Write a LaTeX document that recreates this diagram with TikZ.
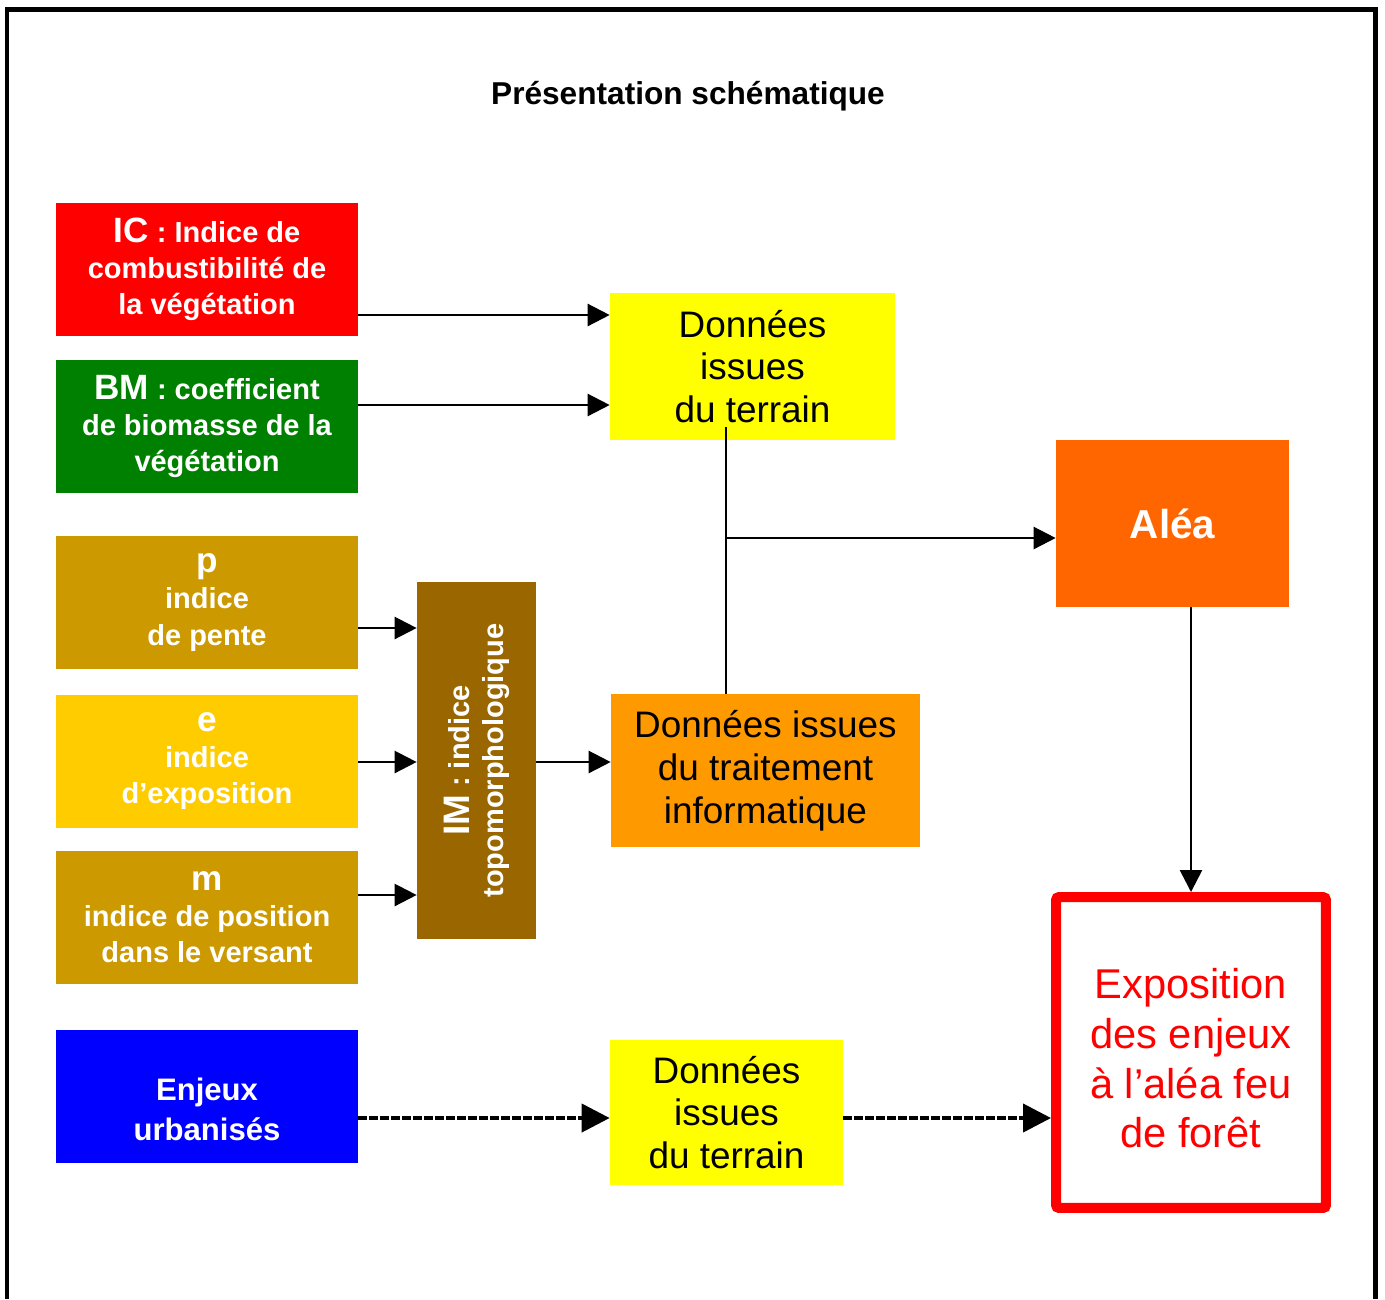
\documentclass[tikz,border=0pt]{standalone}
\usepackage{fontspec}
\setmainfont{Liberation Sans}
\usetikzlibrary{arrows.meta,calc}

\definecolor{icred}{HTML}{FF0000}
\definecolor{bmgreen}{HTML}{008000}
\definecolor{pente}{HTML}{CC9900}
\definecolor{exposit}{HTML}{FFCC00}
\definecolor{imbrown}{HTML}{996600}
\definecolor{jaune}{HTML}{FFFF00}
\definecolor{traitorange}{HTML}{FF9900}
\definecolor{aleaorange}{HTML}{FF6600}
\definecolor{bleu}{HTML}{0000FF}

\tikzset{
  lbox/.style={minimum width=6.04cm, minimum height=2.66cm, inner sep=0pt,
    align=center, text=white, font=\bfseries\fontsize{16.5}{20.5}\selectfont},
  dbox/.style={inner sep=0pt, align=center, font=\fontsize{21}{24.4}\selectfont},
  arr/.style={line width=1.4pt, -{Triangle[length=0.44cm,width=0.44cm]}},
  darr/.style={line width=2.3pt, dash pattern=on 0.18cm off 0.04cm,
    -{Triangle[length=0.56cm,width=0.56cm]}},
}
\newcommand{\gros}[1]{{\fontsize{20}{24}\selectfont #1}}

\begin{document}
\begin{tikzpicture}[x=0.02cm,y=-0.02cm]
        \useasboundingbox (0,0) rectangle (1385,1299);
        \draw[line width=0.1cm] (7,1299) -- (7,9) -- (1375.5,9) -- (1375.5,1299);
        \node[font=\bfseries\fontsize{18}{22}\selectfont] (titre) at (688,96) {Présentation schématique};
        % colonne de gauche
        \node[lbox, fill=icred]   (ic) at (207,269.5) {\gros{IC} : Indice de\\combustibilité de\\la végétation};
        \node[lbox, fill=bmgreen] (bm) at (207,426.5) {\gros{BM} : coefficient\\de biomasse de la\\végétation};
        \node[lbox, fill=pente]   (p)  at (207,602.5) {\gros{p}\\indice\\de pente};
        \node[lbox, fill=exposit] (e)  at (207,761)   {\gros{e}\\indice\\d’exposition};
        \node[lbox, fill=pente]   (m)  at (207,917.5) {\gros{m}\\indice de position\\dans le versant};
        \node[lbox, fill=bleu, font=\bfseries\fontsize{17.7}{22.7}\selectfont]
             (enj) at (207,1096) {\rule{0pt}{28pt}Enjeux\\urbanisés};
        % indice topomorphologique
        \node[fill=imbrown, minimum width=2.38cm, minimum height=7.14cm, inner sep=0pt] (im) at (476.5,760.5) {};
        \node[rotate=90, align=center, text=white, font=\bfseries\fontsize{16.5}{19.3}\selectfont]
             (imtxt) at (im.center) {{\fontsize{21}{24}\selectfont IM} : indice\\topomorphologique};
        % donnees
        \node[dbox, fill=jaune, minimum width=5.7cm, minimum height=2.94cm] (terrain1) at (752.5,366.5) {Données\\issues\\du terrain};
        \node[dbox, fill=traitorange, minimum width=6.18cm, minimum height=3.06cm] (trait) at (765.5,770.5) {Données issues\\du traitement\\informatique};
        \node[dbox, fill=jaune, minimum width=4.66cm, minimum height=2.9cm] (terrain2) at (726.5,1112.5) {Données\\issues\\du terrain};
        \node[fill=aleaorange, minimum width=4.66cm, minimum height=3.34cm, text=white,
              font=\bfseries\fontsize{23}{27}\selectfont] (alea) at (1172.5,523.5) {Aléa};
        \node[draw=icred, line width=0.2cm, rounded corners=0.06cm, minimum width=5.4cm, minimum height=6.22cm,
              align=center, text=icred, font=\fontsize{23.7}{28.3}\selectfont]
             (expo) at (1191,1052.5) {\rule{0pt}{24pt}Exposition\\des enjeux\\à l’aléa feu\\de forêt};
        % fleches
        \coordinate (ya) at ($(ic.east)+(0,45.5)$);
        \coordinate (yb) at ($(bm.east)+(0,-21.5)$);
        \draw[arr] (ya) -- (ya -| terrain1.west);
        \draw[arr] (yb) -- (yb -| terrain1.west);
        \coordinate (yp) at ($(p.east)+(0,25.5)$);
        \coordinate (ye) at ($(e.east)+(0,1)$);
        \coordinate (ym) at ($(m.east)+(0,-22.5)$);
        \draw[arr] (yp) -- (yp -| im.west);
        \draw[arr] (ye) -- (ye -| im.west);
        \draw[arr] (ym) -- (ym -| im.west);
        \draw[arr] (ye -| im.east) -- (ye -| trait.west);
        \coordinate (j1) at ($(terrain1.south)+(-26.5,-13)$);
        \coordinate (j2) at ($(alea.west)+(0,14.5)$);
        \draw[line width=1.4pt] (j1) -- (j1 |- trait.north);
        \draw[arr] (j1 |- j2) -- (j2);
        \draw[arr] (expo.north |- alea.south) -- (expo.north);
        \coordinate (yd) at ($(enj.east)+(0,22)$);
        \draw[darr] (yd) -- (yd -| terrain2.west);
        \draw[darr] (yd -| terrain2.east) -- (yd -| expo.west);
\end{tikzpicture}
\end{document}
